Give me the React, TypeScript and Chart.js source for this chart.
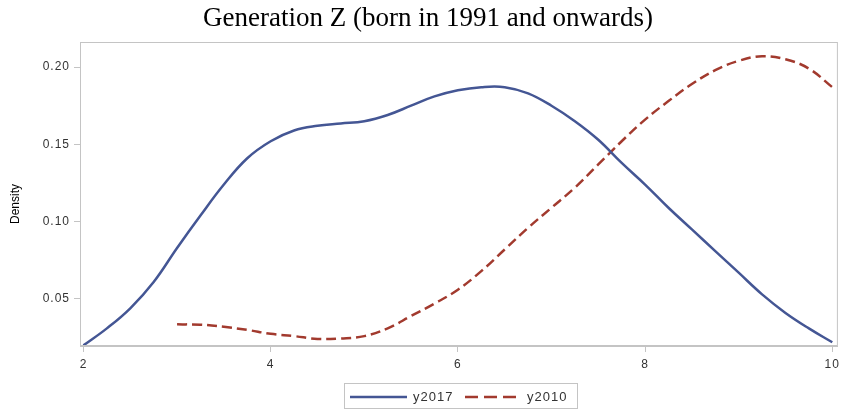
import React, { useEffect, useRef } from "react";
import { Chart, registerables } from "chart.js";

Chart.register(...registerables);

const TITLE = "Generation Z (born in 1991 and onwards)";
const Y_TITLE = "Density";
const X_TICKS = [2, 4, 6, 8, 10];
const Y_TICKS = [0.05, 0.1, 0.15, 0.2];

const X2017 = [2.0, 2.25, 2.5, 2.75, 3.0, 3.25, 3.5, 3.75, 4.0, 4.25, 4.5, 4.75, 5.0, 5.25, 5.5, 5.75, 6.0, 6.25, 6.5, 6.75, 7.0, 7.25, 7.5, 7.75, 8.0, 8.25, 8.5, 8.75, 9.0, 9.25, 9.5, 9.75, 10.0];
const Y2017 = [0.020, 0.031, 0.044, 0.061, 0.083, 0.104, 0.124, 0.141, 0.152, 0.159, 0.162, 0.1635, 0.165, 0.169, 0.175, 0.181, 0.185, 0.187, 0.187, 0.183, 0.175, 0.165, 0.153, 0.138, 0.124, 0.109, 0.095, 0.081, 0.067, 0.053, 0.041, 0.031, 0.022];

const X2010 = [3.0, 3.25, 3.5, 3.75, 4.0, 4.25, 4.5, 4.75, 5.0, 5.25, 5.5, 5.75, 6.0, 6.25, 6.5, 6.75, 7.0, 7.25, 7.5, 7.75, 8.0, 8.25, 8.5, 8.75, 9.0, 9.25, 9.5, 9.75, 10.0];
const Y2010 = [0.0336, 0.0334, 0.032, 0.030, 0.0275, 0.026, 0.0242, 0.0245, 0.026, 0.031, 0.039, 0.047, 0.056, 0.068, 0.082, 0.096, 0.109, 0.122, 0.137, 0.152, 0.166, 0.178, 0.189, 0.198, 0.204, 0.207, 0.205, 0.199, 0.187];

const SERIES_NAMES = ["y2017", "y2010"];
const COLORS = ["#445694", "#A23A2E"];
const SANS = "'Liberation Sans', Arial, sans-serif";

export default function App() {
  const ref = useRef<HTMLCanvasElement | null>(null);

  useEffect(() => {
    if (!ref.current) return;
    const frameAndLabels = {
      id: "frameAndLabels",
      beforeDraw(chart: any) {
        (chart.ctx as any).letterSpacing = "1px";
      },
      afterDraw(chart: any) {
        const { ctx, chartArea } = chart;
        ctx.save();
        // frame
        ctx.strokeStyle = "#c4c4c4";
        ctx.lineWidth = 1;
        ctx.strokeRect(chartArea.left + 0.5, chartArea.top + 0.5, chartArea.right - chartArea.left - 1, chartArea.bottom - chartArea.top - 1);
        // y axis title
        ctx.save();
        (ctx as any).letterSpacing = "0px";
        ctx.translate(16, 204);
        ctx.rotate(-Math.PI / 2);
        ctx.fillStyle = "#000";
        ctx.font = "12px " + SANS;
        ctx.textAlign = "center";
        ctx.textBaseline = "middle";
        ctx.fillText(Y_TITLE, 0, 0);
        ctx.restore();
        // title
        (ctx as any).letterSpacing = "0px";
        ctx.fillStyle = "#000";
        ctx.font = "27px 'Liberation Serif', 'Times New Roman', serif";
        ctx.textAlign = "center";
        ctx.textBaseline = "middle";
        ctx.fillText(TITLE, 428, 19);
        (ctx as any).letterSpacing = "1px";
        // legend
        ctx.strokeStyle = "#c4c4c4";
        ctx.lineWidth = 1;
        ctx.strokeRect(344.5, 383.5, 233, 25);
        const ds = chart.data.datasets;
        const cy = 397;
        ctx.font = "13px " + SANS;
        ctx.textAlign = "left";
        ctx.fillStyle = "#333";
        ctx.lineWidth = 2.5;
        ctx.strokeStyle = ds[0].borderColor;
        ctx.setLineDash([]);
        ctx.beginPath();
        ctx.moveTo(350, cy);
        ctx.lineTo(407, cy);
        ctx.stroke();
        ctx.fillText(ds[0].label, 413, cy);
        ctx.strokeStyle = ds[1].borderColor;
        ctx.setLineDash([13, 6]);
        ctx.beginPath();
        ctx.moveTo(465, cy);
        ctx.lineTo(517, cy);
        ctx.stroke();
        ctx.setLineDash([]);
        ctx.fillText(ds[1].label, 527, cy);
        ctx.restore();
      },
    };

    const chart = new Chart(ref.current, {
      type: "line",
      data: {
        datasets: [
          {
            label: SERIES_NAMES[0],
            data: X2017.map((x, i) => ({ x, y: Y2017[i] })),
            borderColor: COLORS[0],
            borderWidth: 2.5,
            pointRadius: 0,
            tension: 0.4,
            fill: false,
          },
          {
            label: SERIES_NAMES[1],
            data: X2010.map((x, i) => ({ x, y: Y2010[i] })),
            borderColor: COLORS[1],
            borderWidth: 2.5,
            borderDash: [10, 5],
            pointRadius: 0,
            tension: 0.4,
            fill: false,
          },
        ],
      },
      options: {
        animation: false,
        responsive: false,
        maintainAspectRatio: false,
        layout: { padding: { left: 0, right: 6, top: 42, bottom: 0 } },
        plugins: {
          legend: { display: false },
          title: { display: false },
          tooltip: { enabled: false },
        },
        scales: {
          x: {
            type: "linear",
            min: 1.963,
            max: 10.06,
            afterBuildTicks: (s: any) => {
              s.ticks = X_TICKS.map((v) => ({ value: v }));
            },
            afterFit: (s: any) => {
              s.height = 64;
            },
            grid: { display: true, drawOnChartArea: false, drawTicks: true, tickLength: 6, color: "#c4c4c4" },
            border: { display: true, color: "#c4c4c4" },
            ticks: {
              color: "#333",
              padding: 5,
              maxRotation: 0,
              font: { family: SANS, size: 12 },
            },
          },
          y: {
            type: "linear",
            min: 0.0196,
            max: 0.2162,
            afterBuildTicks: (s: any) => {
              s.ticks = Y_TICKS.map((v) => ({ value: v }));
            },
            afterFit: (s: any) => {
              s.width = 80;
            },
            grid: { display: true, drawOnChartArea: false, drawTicks: true, tickLength: 6, color: "#c4c4c4" },
            border: { display: true, color: "#c4c4c4" },
            ticks: {
              color: "#333",
              padding: 4,
              callback: (v: any) => Number(v).toFixed(2),
              font: { family: SANS, size: 12 },
            },
          },
        },
      },
      plugins: [frameAndLabels],
    } as any);
    return () => chart.destroy();
  }, []);

  return (
    <div style={{ position: "absolute", left: 0, top: 0, width: 844, height: 410, background: "#fff" }}>
      <canvas ref={ref} width={844} height={410} style={{ width: 844, height: 410 }} />
    </div>
  );
}
